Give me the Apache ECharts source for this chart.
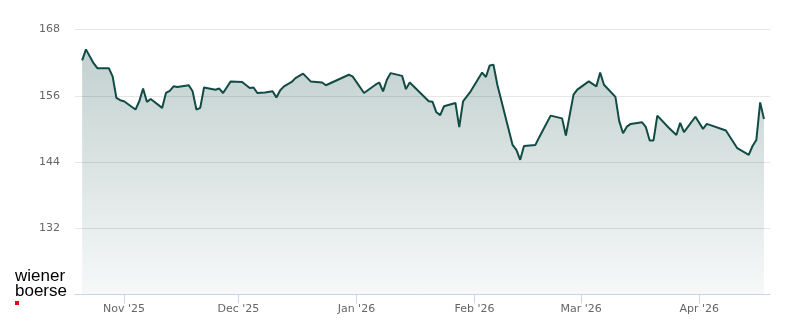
<!DOCTYPE html>
<html>
<head>
<meta charset="utf-8">
<script src="https://cdn.jsdelivr.net/npm/echarts@6/dist/echarts.min.js"></script>
<style>
html,body{margin:0;padding:0;background:#fff;}
#chart{width:800px;height:324px;}
</style>
</head>
<body>
<div id="chart"></div>
<script>
// Dates (vertices of the price line) and closing values
const dates = [
  '2025-10-21','2025-10-22','2025-10-24','2025-10-25','2025-10-28','2025-10-29','2025-10-30','2025-10-31',
  '2025-11-01','2025-11-04','2025-11-05','2025-11-06','2025-11-07','2025-11-08','2025-11-11','2025-11-12',
  '2025-11-13','2025-11-14','2025-11-15','2025-11-18','2025-11-19','2025-11-20','2025-11-21','2025-11-22',
  '2025-11-25','2025-11-26','2025-11-27','2025-11-29','2025-12-02','2025-12-04','2025-12-05','2025-12-06',
  '2025-12-08','2025-12-10','2025-12-11','2025-12-12','2025-12-13','2025-12-15','2025-12-16','2025-12-18',
  '2025-12-20','2025-12-23','2025-12-24','2025-12-30','2025-12-31','2026-01-03','2026-01-06','2026-01-07',
  '2026-01-08','2026-01-09','2026-01-10','2026-01-13','2026-01-14','2026-01-15','2026-01-20','2026-01-21',
  '2026-01-22','2026-01-23','2026-01-24','2026-01-27','2026-01-28','2026-01-29','2026-01-31','2026-02-03',
  '2026-02-04','2026-02-05','2026-02-06','2026-02-07','2026-02-11','2026-02-12','2026-02-13','2026-02-14',
  '2026-02-17','2026-02-18','2026-02-19','2026-02-21','2026-02-24','2026-02-25','2026-02-27','2026-02-28',
  '2026-03-03','2026-03-05','2026-03-06','2026-03-07','2026-03-10','2026-03-11','2026-03-12','2026-03-13',
  '2026-03-14','2026-03-17','2026-03-18','2026-03-19','2026-03-20','2026-03-21','2026-03-24','2026-03-26',
  '2026-03-27','2026-03-28','2026-03-31','2026-04-02','2026-04-03','2026-04-08','2026-04-11','2026-04-14',
  '2026-04-15','2026-04-16','2026-04-17','2026-04-18'
];
const prices = [
  162.4,164.4,161.9,161.0,161.0,159.5,155.6,155.2,
  155.0,153.5,155.0,157.3,154.9,155.4,153.8,156.5,
  156.9,157.7,157.6,157.9,156.8,153.5,153.8,157.5,
  157.1,157.3,156.5,158.6,158.5,157.4,157.5,156.5,
  156.6,156.8,155.7,157.0,157.7,158.5,159.2,160.0,
  158.6,158.4,157.9,159.8,159.5,156.5,158.0,158.4,
  156.8,158.9,160.1,159.6,157.2,158.4,155.0,154.9,
  153.0,152.5,154.1,154.7,150.3,155.0,156.8,160.2,
  159.4,161.5,161.6,158.0,147.1,146.2,144.4,146.9,
  147.1,148.5,149.8,152.4,151.9,148.8,156.2,157.1,
  158.6,157.7,160.2,158.0,155.8,151.4,149.2,150.4,
  150.9,151.2,150.3,147.9,147.9,152.4,150.2,148.9,
  151.1,149.4,152.2,150.0,150.9,149.7,146.5,145.3,
  146.9,148.0,154.8,151.8
];
const yTicks = { min: 120, max: 168, step: 12 };
const monthNames = ['Jan','Feb','Mar','Apr','May','Jun','Jul','Aug','Sep','Oct','Nov','Dec'];
const xRange = { min: Date.UTC(2025, 9, 19, 3), max: Date.UTC(2026, 3, 19, 14) };

const seriesData = dates.map((d, i) => [d, prices[i]]);
const DAY = 86400000;

const chart = echarts.init(document.getElementById('chart'), null, { renderer: 'canvas' });
chart.setOption({
  useUTC: true,
  animation: false,
  backgroundColor: '#ffffff',
  grid: { left: 75, right: 30, top: 29.5, bottom: 29.5, containLabel: false },
  xAxis: {
    type: 'time',
    min: xRange.min,
    max: xRange.max,
    minInterval: 28 * DAY,
    maxInterval: 31 * DAY,
    axisLine: { show: true, lineStyle: { color: '#ccd6eb', width: 1 } },
    axisTick: { show: true, length: 9, lineStyle: { color: '#ccd6eb' } },
    splitLine: { show: false },
    axisLabel: {
      showMinLabel: false,
      showMaxLabel: false,
      margin: 9,
      color: '#666666',
      fontFamily: 'DejaVu Sans',
      fontSize: 11,
      formatter: function (val) {
        const d = new Date(val);
        return monthNames[d.getUTCMonth()] + " '" + String(d.getUTCFullYear()).slice(2);
      }
    }
  },
  yAxis: {
    type: 'value',
    min: yTicks.min,
    max: yTicks.max,
    interval: yTicks.step,
    axisLine: { show: false },
    axisTick: { show: false },
    splitLine: { show: true, lineStyle: { color: '#e6e6e6', width: 1 } },
    axisLabel: {
      showMinLabel: false,
      margin: 15,
      color: '#666666',
      fontFamily: 'DejaVu Sans',
      fontSize: 11
    }
  },
  series: [{
    type: 'line',
    data: seriesData,
    showSymbol: false,
    symbol: 'none',
    lineStyle: { color: '#114b45', width: 2 },
    areaStyle: {
      color: new echarts.graphic.LinearGradient(0, 0, 0, 1, [
        { offset: 0, color: 'rgba(17,75,69,0.37)' },
        { offset: 1, color: 'rgba(17,75,69,0.05)' }
      ])
    }
  }],
  graphic: [
    { type: 'text', left: 15, top: 267.5, style: { text: 'wiener', font: '17px "Liberation Sans", Arial, sans-serif', fill: '#000000' } },
    { type: 'text', left: 15, top: 283, style: { text: 'boerse', font: '17px "Liberation Sans", Arial, sans-serif', fill: '#000000' } },
    { type: 'rect', left: 15, top: 301, shape: { width: 4, height: 4 }, style: { fill: '#e30613' } }
  ]
});
</script>
</body>
</html>
